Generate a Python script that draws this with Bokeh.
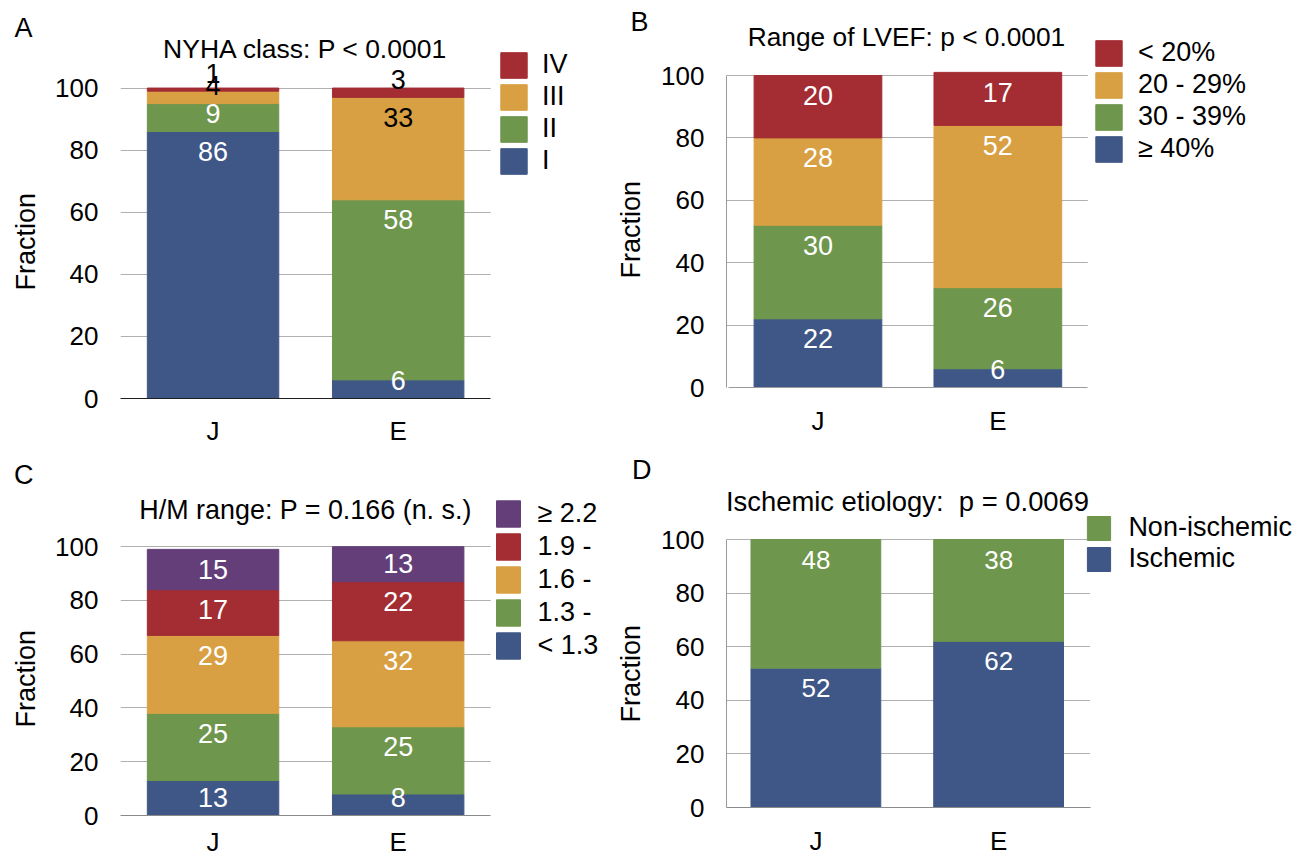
import math
from bokeh.plotting import figure
from bokeh.models import (ColumnDataSource, Range1d, FixedTicker, Legend, LegendItem,
                          Label, Title, LinearAxis)
from bokeh.layouts import column, row
from bokeh.core.properties import value
from bokeh.embed import file_html
from bokeh.resources import INLINE

FONT = "Liberation Sans"

groups = ["J", "E"]
y_ticks = [0, 20, 40, 60, 80, 100]

# Panel A: NYHA class
nyha_classes = ["I", "II", "III", "IV"]
nyha_J = [86, 9, 4, 1]
nyha_E = [6, 58, 33, 3]

# Panel B: range of LVEF
lvef_classes = ["≥ 40%", "30 - 39%", "20 - 29%", "< 20%"]
lvef_J = [22, 30, 28, 20]
lvef_E = [6, 26, 52, 17]

# Panel C: H/M range
hm_classes = ["< 1.3", "1.3 -", "1.6 -", "1.9 -", "≥ 2.2"]
hm_J = [13, 25, 29, 17, 15]
hm_E = [8, 25, 32, 22, 13]

# Panel D: ischemic etiology
etio_classes = ["Ischemic", "Non-ischemic"]
etio_J = [52, 48]
etio_E = [62, 38]

BLUE = "#3f5787"
GREEN = "#6e964c"
ORANGE = "#d8a043"
RED = "#a32d33"
PURPLE = "#633e78"

GROUP_X = [i + 0.5 for i in range(len(groups))]

TICK_SLOT = 22 + 3 * 0.556 * 26      # y tick standoff + width of "100"
CAPTION_H = 1.117 * 27               # text box height of the caption font


def make_panel(cfg):
    fx0, fy0, fx1, fy1 = cfg["fig"]
    fl, ft, fr, fb = cfg["frame"]          # frame rectangle (page px)
    pl, pr = cfg["plot_x"]                 # plot-area left/right (page px)
    ppu = cfg["ppu"]                       # px per unit, value 0 at frame bottom
    ppx = (pr - pl) / len(groups)

    def dx(px):
        return (px - pl) / ppx

    def dy(py):
        return (fb - py) / ppu

    p = figure(x_range=Range1d(dx(fl), dx(fr)), y_range=Range1d(0, dy(ft)),
               width=fx1 - fx0, height=fy1 - fy0, title=None,
               min_border_left=fl - fx0, min_border_right=fx1 - fr,
               min_border_top=ft - fy0, min_border_bottom=fy1 - fb,
               output_backend="svg", toolbar_location=None)

    # white mask so that grid lines stop at the plot area's right edge
    p.quad(left=len(groups), right=dx(fr), bottom=0, top=dy(ft),
           fill_color="white", line_color=None)

    classes = cfg["classes"]
    keys = [f"s{i}" for i in range(len(classes))]
    data = {"x": GROUP_X}
    for i, k in enumerate(keys):
        data[k] = [cfg["J"][i], cfg["E"][i]]
    src = ColumnDataSource(data)
    rs = p.vbar_stack(keys, x="x", width=0.71, color=cfg["colors"],
                      line_width=1, source=src)

    # value labels inside the segments
    lx, ly, lt, lc = [], [], [], []
    for gx, vals, cols in ((GROUP_X[0], cfg["J"], cfg["lab_J"]),
                           (GROUP_X[1], cfg["E"], cfg["lab_E"])):
        bottom = 0
        for v, c in zip(vals, cols):
            top = bottom + v
            lx.append(gx)
            ly.append(max(top - 20.0 / ppu, bottom + 18.0 / ppu))
            lt.append(str(v))
            lc.append(c)
            bottom = top
    p.text(x="x", y="y", text="t", text_color="c",
           source=ColumnDataSource(dict(x=lx, y=ly, t=lt, c=lc)),
           text_font=value(FONT), text_font_size=cfg["vfs"],
           text_align="center", text_baseline="middle")

    # grid and axes
    p.outline_line_color = None
    p.xgrid.visible = False
    p.ygrid.ticker = FixedTicker(ticks=y_ticks)
    p.ygrid.grid_line_color = "#b0b0b0"
    p.ygrid.grid_line_width = 1

    xa, ya = p.xaxis[0], p.yaxis[0]
    for ax in (xa, ya):
        ax.major_tick_line_color = None
        ax.minor_tick_line_color = None
        ax.major_tick_out = 0
        ax.major_tick_in = 0
        ax.major_label_text_font = FONT
        ax.major_label_text_color = "black"
        ax.major_label_text_font_size = "26px"
    xa.ticker = FixedTicker(ticks=GROUP_X)
    xa.major_label_overrides = {gx: g for gx, g in zip(GROUP_X, groups)}
    xa.bounds = (0, len(groups))
    xa.major_label_standoff = cfg["xstand"]
    xa.axis_line_color = cfg["xline"]
    ya.ticker = FixedTicker(ticks=y_ticks)
    ya.bounds = (0, 100)
    ya.major_label_standoff = 22
    ya.axis_line_color = cfg["yline"]

    # y caption as a side title
    p.add_layout(Title(text="Fraction", align="left", vertical_align="top",
                       offset=fb - cfg["frac_bottom"], standoff=cfg["frac_st"],
                       text_font=FONT, text_font_size="27px",
                       text_font_style="normal", text_color="black"), "left")
    rule = fl - TICK_SLOT - (2 + CAPTION_H + cfg["frac_st"])

    # panel letter drawn as the tick label of a bare outer side axis
    lax = LinearAxis(ticker=FixedTicker(ticks=[dy(cfg["let_cy"])]),
                     major_label_overrides={dy(cfg["let_cy"]): cfg["letter"]},
                     major_label_standoff=int(round(rule - cfg["let_right"])),
                     axis_line_color=None, major_tick_line_color=None,
                     minor_tick_line_color=None, major_tick_out=0, major_tick_in=0,
                     major_label_text_font=FONT, major_label_text_font_size="27px",
                     major_label_text_color="black")
    p.add_layout(lax, "left")

    # legend inside the (extended) frame; the swatch is drawn at 80% of its box
    n = len(classes)
    gw, gh = cfg["sq_w"] / 0.8, cfg["item_h"]
    sq_left, sq_top = cfg["sq_pos"]
    box_left = sq_left - 0.1 * gw
    box_top = sq_top - 0.1 * gh
    items = [LegendItem(label=c, renderers=[rr]) for c, rr in zip(classes, rs)][::-1]
    leg = Legend(items=items,
                 location=(box_left - fl, fb - (box_top + n * cfg["item_h"])),
                 orientation="vertical", margin=0, padding=0, spacing=0,
                 glyph_width=int(round(gw)), glyph_height=int(round(gh)),
                 label_standoff=int(round(cfg["text_left"] - (box_left + gw))),
                 label_height=int(round(cfg["item_h"])),
                 label_text_font=FONT, label_text_font_size="27px",
                 label_text_color="black",
                 border_line_color=None, background_fill_alpha=0)
    p.add_layout(leg)

    # title inside the frame
    p.add_layout(Label(x=dx(cfg["title_cx"]), y=dy(cfg["title_by"]), text=cfg["title"],
                       text_align="center", text_baseline="alphabetic",
                       text_font=FONT, text_font_size=cfg["titfs"], text_color="black"))
    return p


W = "white"
K = "black"

pA = make_panel(dict(
    fig=(0, 0, 604, 448), frame=(119, 0, 604, 400), plot_x=(119, 490), ppu=3.12,
    classes=nyha_classes, J=nyha_J, E=nyha_E,
    colors=[BLUE, GREEN, ORANGE, RED],
    lab_J=[W, W, K, K], lab_E=[W, W, K, K],
    vfs="27px", xstand=17, yline=None, xline="#1e1e1e",
    sq_pos=(499.4, 54), sq_w=26.5, item_h=32, text_left=541.7,
    title="NYHA class: P < 0.0001", title_cx=304.5, title_by=49, titfs="26.5px",
    letter="A", let_right=33.6, let_cy=27.5,
    frac_bottom=292, frac_st=20))

pB = make_panel(dict(
    fig=(604, 0, 1308, 448), frame=(726, 0, 1308, 387), plot_x=(727.5, 1087.3), ppu=3.12,
    classes=lvef_classes, J=lvef_J, E=lvef_E,
    colors=[BLUE, GREEN, ORANGE, RED],
    lab_J=[W, W, W, W], lab_E=[W, W, W, W],
    vfs="27px", xstand=18, yline="#9a9a9a", xline="#9a9a9a",
    sq_pos=(1095.2, 40), sq_w=26.4, item_h=32, text_left=1137.8,
    title="Range of LVEF: p < 0.0001", title_cx=906, title_by=36, titfs="26.3px",
    letter="B", let_right=650.7, let_cy=21,
    frac_bottom=278, frac_st=22))

pC = make_panel(dict(
    fig=(0, 448, 604, 859), frame=(119, 448, 604, 818), plot_x=(119, 490), ppu=2.71,
    classes=hm_classes, J=hm_J, E=hm_E,
    colors=[BLUE, GREEN, ORANGE, RED, PURPLE],
    lab_J=[W] * 5, lab_E=[W] * 5,
    vfs="27px", xstand=11, yline=None, xline="#8a8a8a",
    sq_pos=(495.4, 503), sq_w=23.8, item_h=33, text_left=535.8,
    title="H/M range: P = 0.166 (n. s.)", title_cx=304.5, title_by=510, titfs="26.9px",
    letter="C", let_right=34.8, let_cy=475,
    frac_bottom=730, frac_st=20))

pD = make_panel(dict(
    fig=(604, 448, 1308, 859), frame=(726, 448, 1308, 807), plot_x=(724, 1089.5), ppu=2.68,
    classes=etio_classes, J=etio_J, E=etio_E,
    colors=[BLUE, GREEN],
    lab_J=[W, W], lab_E=[W, W],
    vfs="26px", xstand=18, yline="#9a9a9a", xline="#8a8a8a",
    sq_pos=(1087.3, 517), sq_w=23.3, item_h=30, text_left=1128.1,
    title="Ischemic etiology:\u00a0 p = 0.0069", title_cx=907, title_by=501, titfs="27.4px",
    letter="D", let_right=653, let_cy=469,
    frac_bottom=722, frac_st=22))

p = row(column(pA, pC), column(pB, pD))

open("out.html", "w").write(file_html(p, INLINE))
